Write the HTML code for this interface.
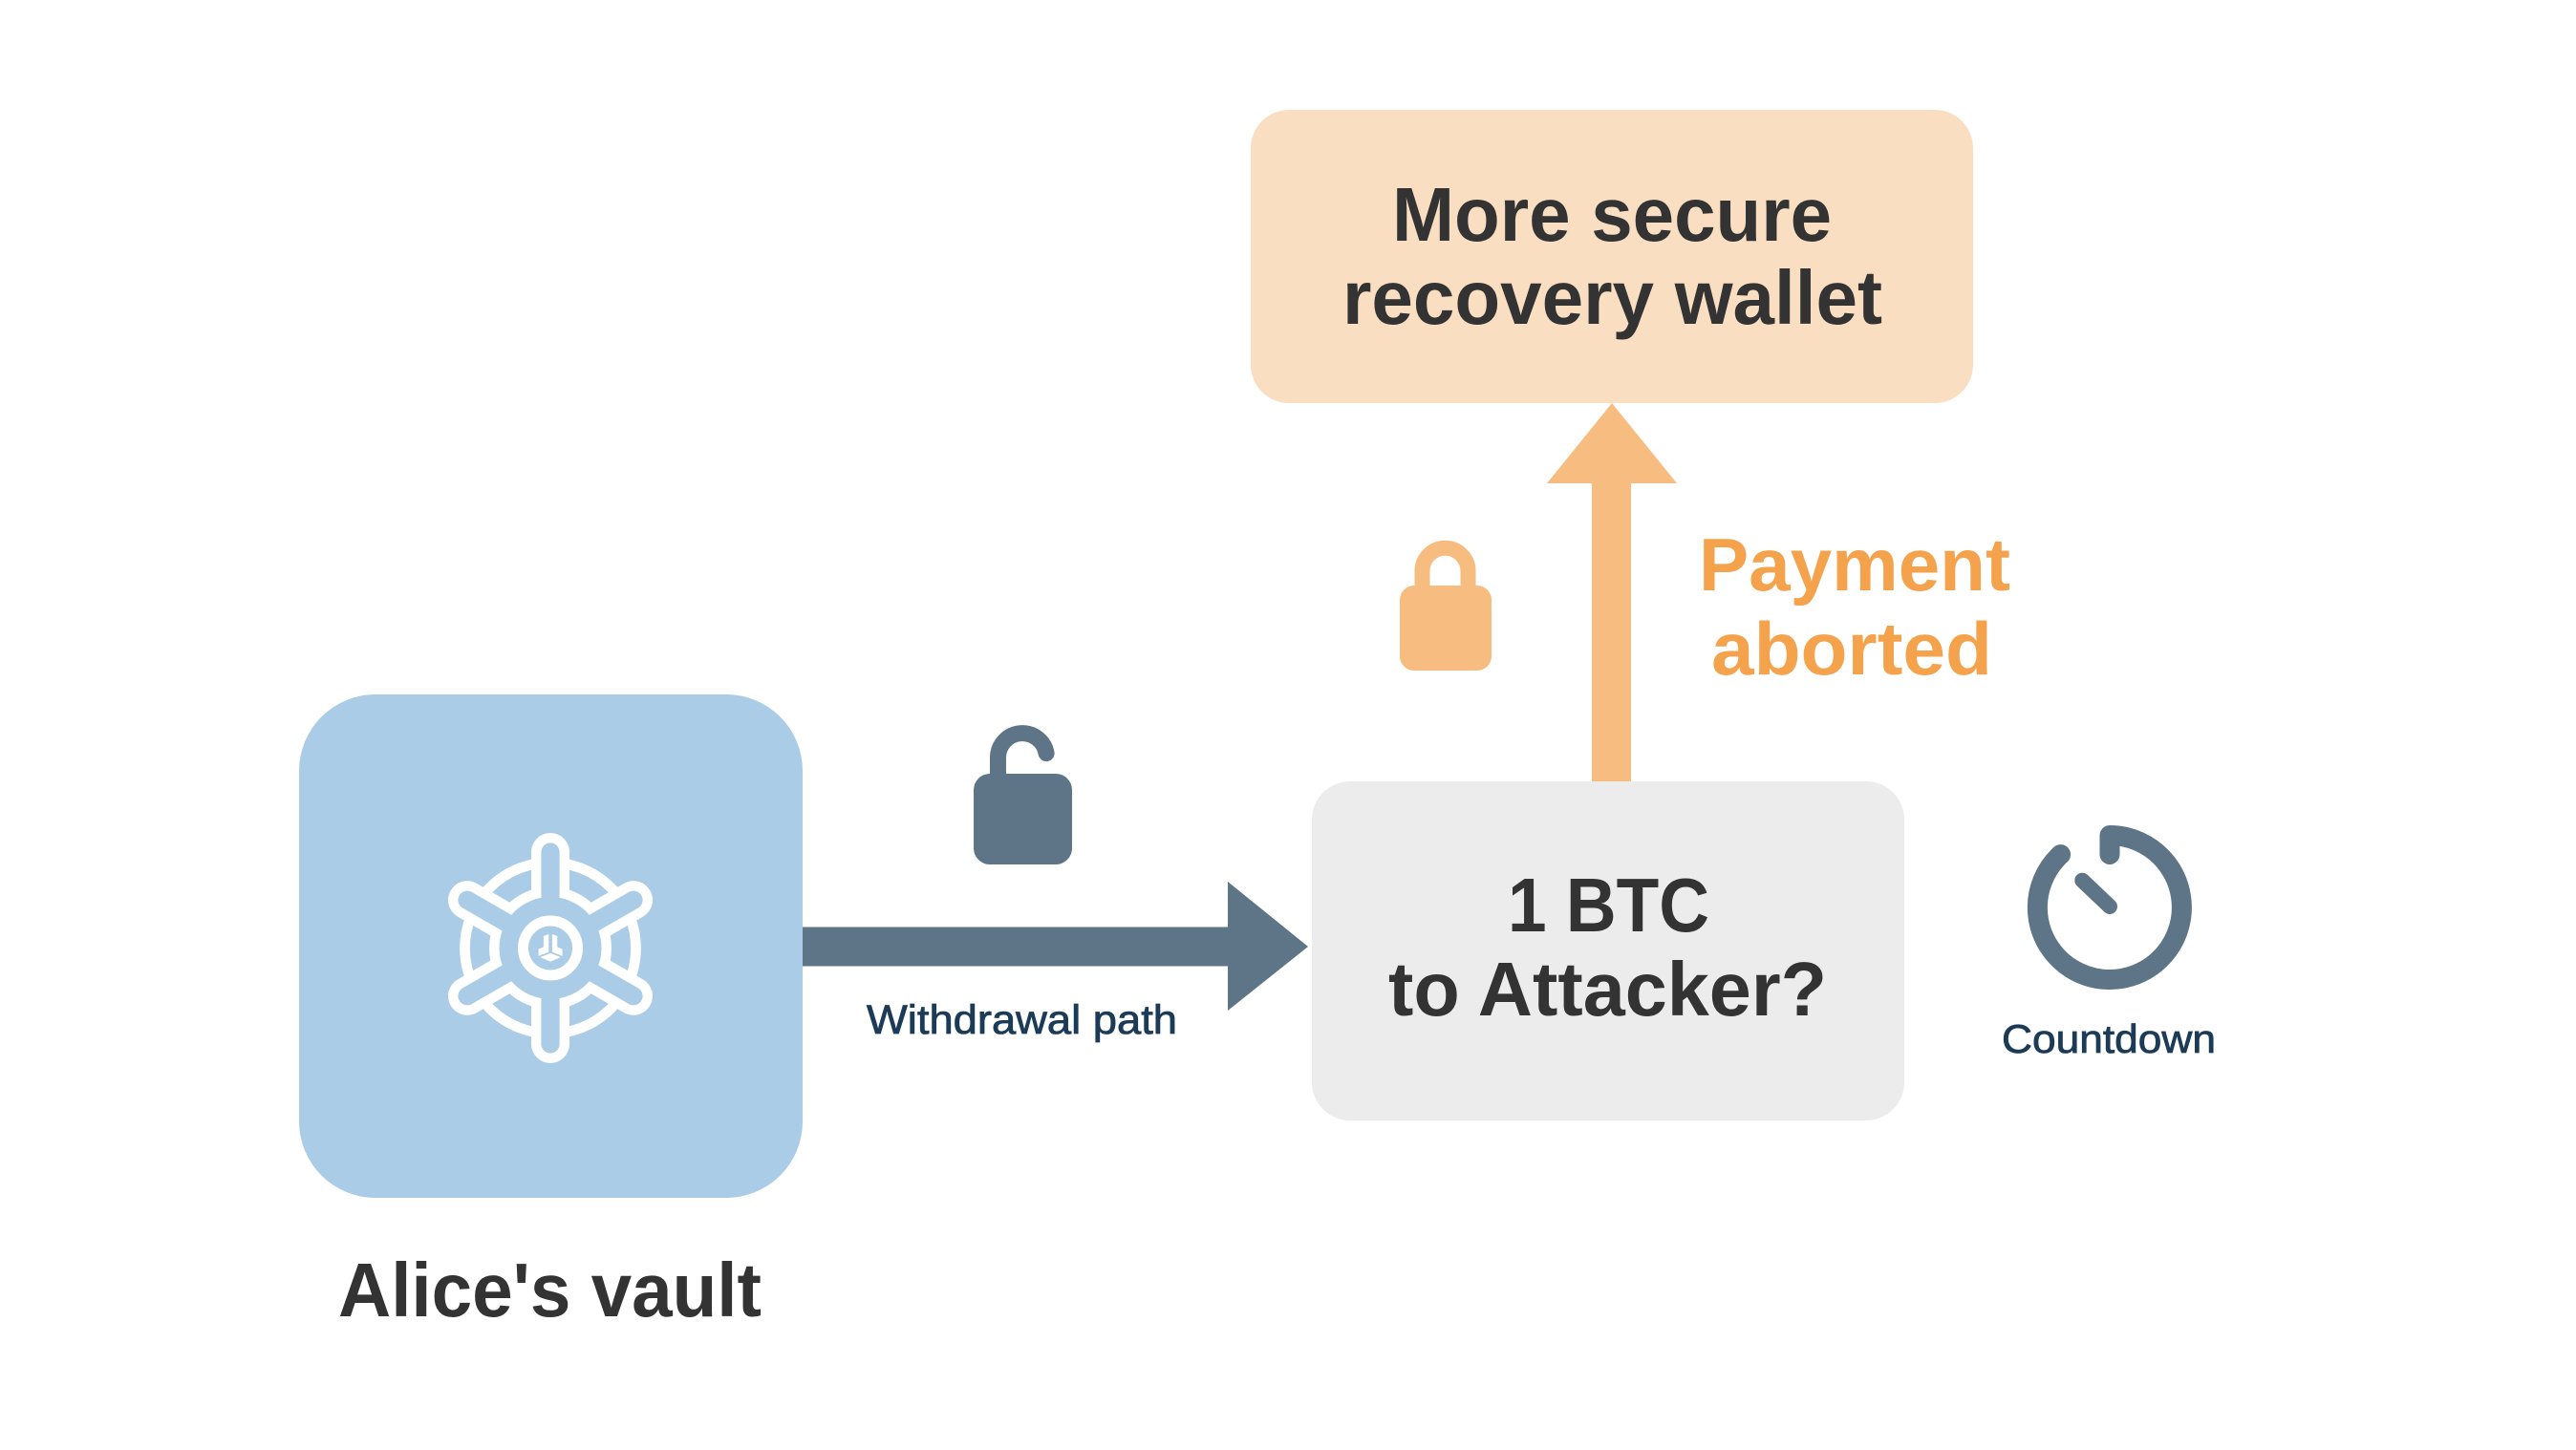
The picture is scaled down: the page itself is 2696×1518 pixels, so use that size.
<!DOCTYPE html>
<html>
<head>
<meta charset="utf-8">
<style>
  html, body { margin: 0; padding: 0; background: #ffffff; }
  body { width: 2696px; height: 1518px; overflow: hidden; }
  svg { display: block; }
  .h { font-family: "Liberation Sans", sans-serif; font-weight: bold; }
  .s { font-family: "Liberation Sans", sans-serif; }
</style>
</head>
<body>
<svg width="2696" height="1518" viewBox="0 0 2696 1518" xmlns="http://www.w3.org/2000/svg">
  <rect x="0" y="0" width="2696" height="1518" fill="#ffffff"/>

  <!-- Orange recovery wallet box -->
  <rect x="1309" y="115" width="756" height="307" rx="40" ry="40" fill="#fadec1"/>
  <text class="h" x="1457" y="252" font-size="80" fill="#333333" textLength="460" lengthAdjust="spacingAndGlyphs">More secure</text>
  <text class="h" x="1405" y="339" font-size="80" fill="#333333" textLength="565" lengthAdjust="spacingAndGlyphs">recovery wallet</text>

  <!-- Orange up arrow -->
  <rect x="1666" y="504" width="41" height="316" fill="#f7bc80"/>
  <polygon points="1619,506 1687,422 1755,506" fill="#f7bc80"/>

  <!-- Orange closed lock -->
  <path d="M1488.5,616 V597.7 A24,24 0 0 1 1536.5,597.7 V616" fill="none" stroke="#f7bc80" stroke-width="16"/>
  <rect x="1465" y="613" width="96" height="89" rx="15" ry="15" fill="#f7bc80"/>

  <!-- Payment aborted -->
  <text class="h" x="1778" y="618" font-size="78" fill="#f4a24c" textLength="326" lengthAdjust="spacingAndGlyphs">Payment</text>
  <text class="h" x="1791" y="706" font-size="78" fill="#f4a24c" textLength="294" lengthAdjust="spacingAndGlyphs">aborted</text>

  <!-- Gray box -->
  <rect x="1373" y="818" width="620" height="355" rx="40" ry="40" fill="#ececec"/>
  <text class="h" x="1578" y="975" font-size="80" fill="#333333" textLength="211" lengthAdjust="spacingAndGlyphs">1 BTC</text>
  <text class="h" x="1453" y="1063" font-size="80" fill="#333333" textLength="459" lengthAdjust="spacingAndGlyphs">to Attacker?</text>

  <!-- Vault box -->
  <rect x="313" y="727" width="527" height="527" rx="80" ry="80" fill="#abcce6"/>

  <!-- Wheel icon -->
  <g transform="translate(576,992.5)">
    <circle r="89.5" fill="none" stroke="#ffffff" stroke-width="10.7"/>
    <g stroke="#ffffff" stroke-width="40" stroke-linecap="round">
      <line x1="0" y1="0" x2="0" y2="-100.5"/>
      <line x1="0" y1="0" x2="87" y2="-50.25"/>
      <line x1="0" y1="0" x2="87" y2="50.25"/>
      <line x1="0" y1="0" x2="0" y2="100.5"/>
      <line x1="0" y1="0" x2="-87" y2="50.25"/>
      <line x1="0" y1="0" x2="-87" y2="-50.25"/>
    </g>
    <circle r="64" fill="#ffffff"/>
    <g stroke="#abcce6" stroke-width="19.2" stroke-linecap="round">
      <line x1="0" y1="0" x2="0" y2="-100.5"/>
      <line x1="0" y1="0" x2="87" y2="-50.25"/>
      <line x1="0" y1="0" x2="87" y2="50.25"/>
      <line x1="0" y1="0" x2="0" y2="100.5"/>
      <line x1="0" y1="0" x2="-87" y2="50.25"/>
      <line x1="0" y1="0" x2="-87" y2="-50.25"/>
    </g>
    <circle r="53.5" fill="#abcce6"/>
    <circle r="28.5" fill="none" stroke="#ffffff" stroke-width="11"/>
    <polygon points="-7.1,-12.5 -1.7,-14.6 -1.7,4.3 -12.4,8.2 -12.4,1.1 -7.1,-1.1" fill="#ffffff"/>
    <polygon points="7.2,-12.5 1.9,-14.6 1.9,4.3 12.6,8.2 12.6,1.1 7.2,-1.1" fill="#ffffff"/>
    <polygon points="-10.6,9.6 0.1,5.4 10.8,9.6 0.1,14.3" fill="#ffffff"/>
  </g>

  <text class="h" x="354" y="1378" font-size="80" fill="#333333" textLength="443" lengthAdjust="spacingAndGlyphs">Alice's vault</text>

  <!-- Slate withdrawal arrow -->
  <rect x="840" y="970.5" width="447" height="41" fill="#5e7587"/>
  <polygon points="1285,923 1369,991 1285,1058" fill="#5e7587"/>

  <!-- Open lock -->
  <path d="M1044.5,812 V793 A25.5,25.5 0 0 1 1095.1,788.6" fill="none" stroke="#5e7587" stroke-width="17" stroke-linecap="round"/>
  <rect x="1019" y="810" width="103" height="95" rx="17" ry="17" fill="#5e7587"/>

  <text class="s" x="907" y="1082" font-size="43" fill="#1b3b57" stroke="#1b3b57" stroke-width="0.8" textLength="325" lengthAdjust="spacingAndGlyphs">Withdrawal path</text>

  <!-- Countdown icon -->
  <path d="M2156.6,894.6 A75.5,75.5 0 1 0 2208,874.5 L2208,894.5" fill="none" stroke="#5e7587" stroke-width="21" stroke-linecap="round" stroke-linejoin="round"/>
  <line x1="2179.3" y1="921.7" x2="2208" y2="949" stroke="#5e7587" stroke-width="16" stroke-linecap="round"/>

  <text class="s" x="2095" y="1102" font-size="42" fill="#1b3b57" stroke="#1b3b57" stroke-width="0.8" textLength="224" lengthAdjust="spacingAndGlyphs">Countdown</text>
</svg>
</body>
</html>
